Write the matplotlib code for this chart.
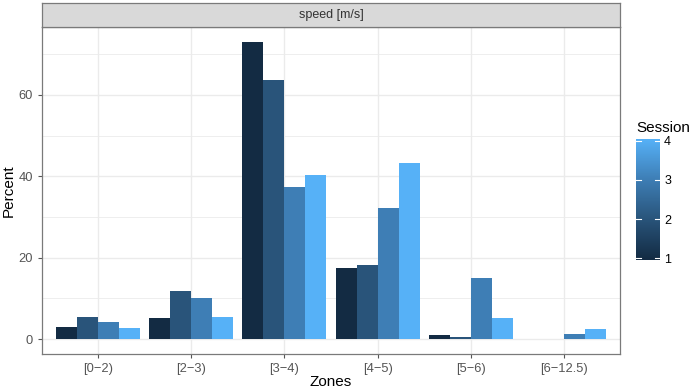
import numpy as np
import matplotlib
matplotlib.use("Agg")
import matplotlib.pyplot as plt
from matplotlib.colors import LinearSegmentedColormap

plt.rcParams["font.family"] = ["Liberation Sans", "DejaVu Sans"]

# =========================
# data
# =========================
zones = ["[0\u22122)", "[2\u22123)", "[3\u22124)", "[4\u22125)", "[5\u22126)", "[6\u221212.5)"]
sessions = [1, 2, 3, 4]
session1 = [3.1, 5.1, 73.0, 17.5, 0.9, 0.05]
session2 = [5.4, 11.8, 63.6, 18.3, 0.5, 0.05]
session3 = [4.2, 10.0, 37.3, 32.1, 14.9, 1.2]
session4 = [2.7, 5.5, 40.4, 43.3, 5.1, 2.5]
values = [session1, session2, session3, session4]

colors = ["#132B43", "#29547A", "#3E7EB5", "#56B1F7"]
cmap = LinearSegmentedColormap.from_list("gg", colors)
border = "#7A7A7A"

# =========================
# figure
# =========================
fig = plt.figure(figsize=(6.91, 3.92), dpi=100)
ax = fig.add_axes([42 / 691, 1 - 354 / 392, 578 / 691, 327 / 392])
strip = fig.add_axes([42 / 691, 1 - 27 / 392, 578 / 691, 24 / 392])

x = np.arange(1, len(zones) + 1)
w = 0.9 / 4
for i, vals in enumerate(values):
    ax.bar(x - 0.45 + w * (i + 0.5), vals, width=w, color=colors[i], zorder=3)

ax.set_xlim(0.4, 6.6)
ax.set_ylim(-3.65, 76.65)
ax.set_yticks([0, 20, 40, 60])
ax.set_yticks([10, 30, 50, 70], minor=True)
ax.set_xticks(x)
ax.set_xticklabels(zones)
ax.grid(True, which="major", color="#EBEBEB", linewidth=1.0, zorder=0)
ax.grid(True, which="minor", axis="y", color="#EBEBEB", linewidth=0.6, zorder=0)
ax.tick_params(which="major", length=3, color="#555555", labelsize=9.3,
               labelcolor="#555555", width=0.8)
ax.tick_params(which="minor", length=0)
for s in ax.spines.values():
    s.set_color(border)
    s.set_linewidth(0.9)
ax.set_xlabel("Zones", fontsize=11, labelpad=0)
ax.set_ylabel("Percent", fontsize=11, labelpad=2)

# strip
strip.set_facecolor("#D9D9D9")
strip.set_xticks([])
strip.set_yticks([])
for s in strip.spines.values():
    s.set_color(border)
    s.set_linewidth(0.9)
strip.text(0.5, 0.5, "speed [m/s]", ha="center", va="center", fontsize=9,
           color="#333333", transform=strip.transAxes)

# colorbar legend
cax = fig.add_axes([636 / 691, 1 - 260 / 392, 24 / 691, 121 / 392])
grad = np.linspace(0, 1, 200).reshape(-1, 1)
cax.imshow(grad, aspect="auto", cmap=cmap, origin="lower",
           extent=[0, 1, 0.95, 4.05])
cax.set_ylim(0.95, 4.05)
cax.set_xlim(0, 1)
cax.set_xticks([])
cax.yaxis.tick_right()
cax.set_yticks(sessions)
cax.tick_params(axis="y", length=0, labelsize=9, pad=3)
for s in cax.spines.values():
    s.set_visible(False)
for v in sessions:
    cax.plot([0, 0.2], [v, v], color="white", linewidth=0.8)
    cax.plot([0.8, 1], [v, v], color="white", linewidth=0.8)
fig.text(636 / 691, 1 - 128 / 392, "Session", fontsize=11, va="center", ha="left")

fig.savefig("out.png", dpi=100)
